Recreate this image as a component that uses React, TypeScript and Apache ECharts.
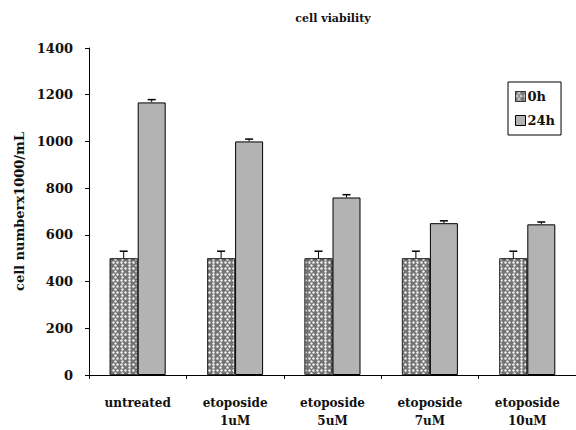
import React, { useEffect, useRef } from "react";
import * as echarts from "echarts";

const categories = ["untreated", "etoposide\n1uM", "etoposide\n5uM", "etoposide\n7uM", "etoposide\n10uM"];
const values0h = [500, 500, 500, 500, 500];
const err0h = [30, 30, 30, 30, 30];
const values24h = [1167, 1000, 760, 650, 645];
const err24h = [12, 10, 12, 10, 10];
const yTicks = { min: 0, max: 1400, interval: 200 };

const FONT = "'DejaVu Serif', 'Liberation Serif', serif";
const BAR_W = 28;

function errorSeries(name: string, vals: number[], errs: number[], offset: number) {
  return {
    type: "custom",
    name: name + "_err",
    silent: true,
    z: 5,
    data: vals.map((v, i) => [i, v, errs[i]]),
    renderItem: (params: any, api: any) => {
      const i = api.value(0);
      const v = api.value(1);
      const e = api.value(2);
      const p0 = api.coord([i, v]);
      const p1 = api.coord([i, v + e]);
      const x = p0[0] + offset;
      return {
        type: "group",
        children: [
          { type: "line", shape: { x1: x, y1: p0[1], x2: x, y2: p1[1] }, style: { stroke: "#000", lineWidth: 1 } },
          { type: "line", shape: { x1: x - 4, y1: p1[1], x2: x + 4, y2: p1[1] }, style: { stroke: "#000", lineWidth: 1.5 } },
        ],
      };
    },
  };
}

export default function App() {
  const ref = useRef<HTMLDivElement>(null);
  useEffect(() => {
    const chart = echarts.init(ref.current!, null, { renderer: "svg" });
    const decal = {
      symbol: "circle",
      symbolSize: 0.85,
      color: "#f4f4f4",
      dashArrayX: [[3, 1], [0, 2, 3, 1, 1, 0]],
      dashArrayY: [3, 0],
      rotation: 0,
    };
    chart.setOption({
      animation: false,
      backgroundColor: "#fff",
      textStyle: { fontFamily: FONT },
      grid: { left: 89, right: 0, top: 48, bottom: 51, containLabel: false },
      graphic: [
        {
          type: "text",
          x: 333,
          y: 18,
          style: {
            text: "cell viability",
            font: `bold 11px ${FONT}`,
            fill: "#111",
            textAlign: "center",
            textVerticalAlign: "middle",
          },
        },
      ],
      legend: {
        orient: "vertical",
        left: 508,
        top: 82,
        width: 57,
        height: 53,
        padding: [8, 6, 8, 7],
        borderColor: "#000",
        borderWidth: 1,
        itemWidth: 10,
        itemHeight: 10,
        itemGap: 11,
        icon: "rect",
        textStyle: { fontFamily: FONT, fontWeight: "bold", fontSize: 13, color: "#111", padding: [0, 0, 0, -3] },
        data: [
          { name: "0h", itemStyle: { color: "#747474", borderColor: "#333", borderWidth: 1, decal } },
          { name: "24h", itemStyle: { color: "#b3b3b3", borderColor: "#000", borderWidth: 1 } },
        ],
      },
      xAxis: {
        type: "category",
        data: categories,
        boundaryGap: true,
        axisLine: { lineStyle: { color: "#000", width: 1 } },
        axisTick: { show: true, inside: false, length: 4, lineStyle: { color: "#000" } },
        axisLabel: {
          fontFamily: FONT,
          fontWeight: "bold",
          fontSize: 12,
          color: "#111",
          margin: 19,
          lineHeight: 18,
          interval: 0,
        },
      },
      yAxis: {
        type: "value",
        min: yTicks.min,
        max: yTicks.max,
        interval: yTicks.interval,
        name: "cell numberx1000/mL",
        nameLocation: "middle",
        nameRotate: 90,
        nameGap: 58,
        nameTextStyle: { fontFamily: FONT, fontWeight: "bold", fontSize: 13, color: "#111" },
        axisLine: { show: true, lineStyle: { color: "#000", width: 1 } },
        axisTick: { show: true, inside: false, length: 4, lineStyle: { color: "#000" } },
        splitLine: { show: false },
        axisLabel: {
          fontFamily: FONT,
          fontWeight: "bold",
          fontSize: 13,
          color: "#111",
          margin: 16,
          formatter: (v: number) => String(v),
        },
      },
      series: [
        {
          type: "bar",
          name: "0h",
          data: values0h,
          barWidth: BAR_W,
          barGap: "0%",
          itemStyle: { color: "#747474", borderColor: "#333", borderWidth: 1, decal },
        },
        {
          type: "bar",
          name: "24h",
          data: values24h,
          barWidth: BAR_W,
          barGap: "0%",
          itemStyle: { color: "#b3b3b3", borderColor: "#000", borderWidth: 1 },
        },
        errorSeries("0h", values0h, err0h, -BAR_W / 2),
        errorSeries("24h", values24h, err24h, BAR_W / 2),
      ],
    });
    return () => chart.dispose();
  }, []);
  return (
    <div
      ref={ref}
      style={{ position: "fixed", left: 0, top: 0, width: 576, height: 430, overflow: "hidden" }}
    />
  );
}
